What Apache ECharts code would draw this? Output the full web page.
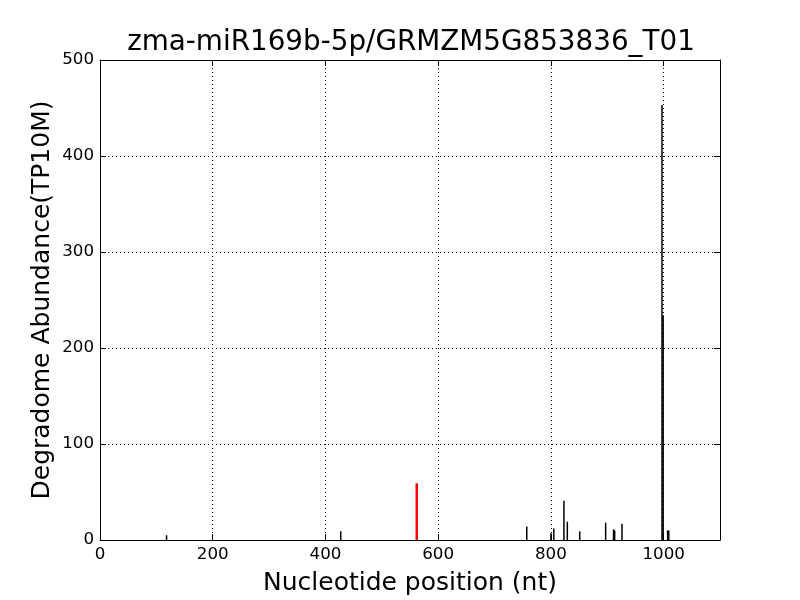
<!DOCTYPE html>
<html><head><meta charset="utf-8">
<script src="https://cdn.jsdelivr.net/npm/echarts@6/dist/echarts.min.js"></script>
<style>html,body{margin:0;padding:0;background:#fff}#c{width:800px;height:600px}</style>
</head><body><div id="c"></div>
<script>
var titleText = "zma-miR169b-5p/GRMZM5G853836_T01";
var xTicks = [0, 200, 400, 600, 800, 1000];
var yTicks = [0, 100, 200, 300, 400, 500];
var blackPositions = [119, 428, 758, 801, 806, 824, 830, 852, 898, 912, 914, 927, 998, 1000, 1008, 1010];
var blackValues =    [5,   9,   14,  7,   12,  41,  19,  9,   18,  11,  10,  17,  453, 234,  10,   10];
var redPositions = [562];
var redValues = [59];

function pairs(xs, ys){ return xs.map(function(x,i){ return [x, ys[i]]; }); }

var font = "DejaVu Sans";
var chart = echarts.init(document.getElementById('c'), null, {renderer:'canvas'});
var axisCommon = {
  type:'value', min:0,
  axisLine:{show:true, onZero:false, lineStyle:{color:'#000', width:1}},
  axisTick:{show:true, inside:true, length:6, lineStyle:{color:'#000'}},
  splitLine:{show:false}
};
chart.setOption({
  animation:false,
  backgroundColor:'#fff',
  title:{text:titleText, left:406, top:24, textAlign:'center',
    textStyle:{fontFamily:font, fontSize:27.8, fontWeight:'normal', color:'#000'}},
  grid:{left:100, right:80, top:60, bottom:60, containLabel:false, outerBoundsMode:'none'},
  xAxis:[
    Object.assign({}, axisCommon, {position:'bottom', max:1100, interval:200,
      name:'Nucleotide position (nt)', nameLocation:'middle', nameGap:31, nameMoveOverlap:false,
      nameTextStyle:{fontFamily:font, fontSize:25, color:'#000'},
      axisLabel:{fontFamily:font, fontSize:16.7, color:'#000', margin:6,
        formatter:function(v){ return xTicks.indexOf(v)>=0 ? String(v) : ''; }},
      splitLine:{show:true, lineStyle:{color:'#000', type:[1,3], width:1}}}),
    Object.assign({}, axisCommon, {position:'top', max:1100, interval:200,
      axisLabel:{show:false}})
  ],
  yAxis:[
    Object.assign({}, axisCommon, {position:'left', max:500, interval:100,
      name:'Degradome Abundance(TP10M)', nameLocation:'middle', nameGap:45, nameMoveOverlap:false,
      nameTextStyle:{fontFamily:font, fontSize:25, color:'#000'},
      axisLabel:{fontFamily:font, fontSize:16.7, color:'#000', margin:6,
        formatter:function(v){ return yTicks.indexOf(v)>=0 ? String(v) : ''; }},
      splitLine:{show:true, lineStyle:{color:'#000', type:[1,3], width:1}}}),
    Object.assign({}, axisCommon, {position:'right', max:500, interval:100,
      axisLabel:{show:false}})
  ],
  series:[
    {type:'bar', xAxisIndex:0, yAxisIndex:0, data:pairs(blackPositions, blackValues),
      barWidth:1.5, barGap:'-100%', itemStyle:{color:'#000'}, z:3},
    {type:'bar', xAxisIndex:0, yAxisIndex:0, data:pairs(redPositions, redValues),
      barWidth:2.5, barGap:'-100%', itemStyle:{color:'#ff0000'}, z:4}
  ]
});
</script></body></html>
